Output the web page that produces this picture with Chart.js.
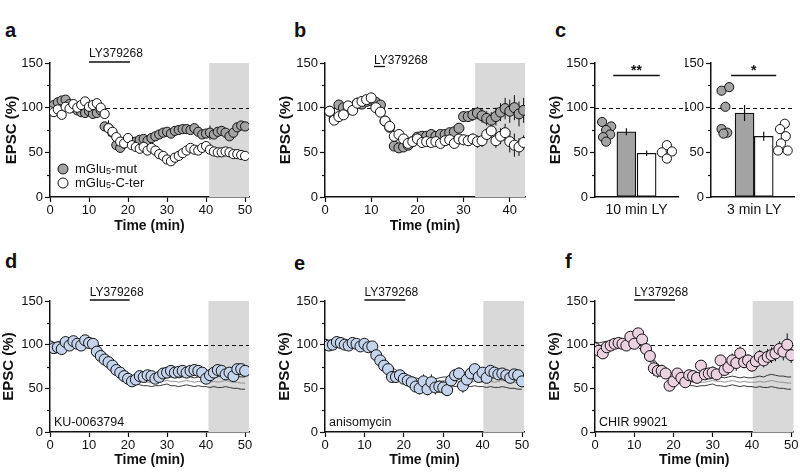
<!DOCTYPE html>
<html>
<head>
<meta charset="utf-8">
<script src="https://cdn.jsdelivr.net/npm/chart.js@4.4.1/dist/chart.umd.min.js"></script>
<style>
  body { margin: 0; background: #fff; }
  #fig { position: relative; width: 800px; height: 475px; overflow: hidden; font-family: "Liberation Sans", Arial, sans-serif; }
  #fig canvas { position: absolute; }
  .tag { position: absolute; font-weight: bold; font-size: 20px; line-height: 1; color: #111; }
</style>
</head>
<body>
<div id="fig">
  <div class="tag" style="left:5px;top:20px">a</div>
  <div class="tag" style="left:294px;top:20px">b</div>
  <div class="tag" style="left:555px;top:20px">c</div>
  <div class="tag" style="left:5px;top:251px">d</div>
  <div class="tag" style="left:294px;top:253px">e</div>
  <div class="tag" style="left:565px;top:251px">f</div>
  <canvas id="chartA" width="265" height="240" style="left:0;top:0"></canvas>
  <canvas id="chartB" width="270" height="240" style="left:270px;top:0"></canvas>
  <canvas id="chartC1" width="150" height="240" style="left:540px;top:0"></canvas>
  <canvas id="chartC2" width="115" height="240" style="left:685px;top:0"></canvas>
  <canvas id="chartD" width="265" height="235" style="left:0;top:240px"></canvas>
  <canvas id="chartE" width="270" height="235" style="left:270px;top:240px"></canvas>
  <canvas id="chartF" width="260" height="235" style="left:540px;top:240px"></canvas>
</div>
<script>
const FONT = "'Liberation Sans', Arial, sans-serif";
Chart.defaults.font.family = FONT;
Chart.defaults.color = '#111';

// time axes (min)
const minutes = Array.from({ length: 51 }, (_, i) => i);
const minutesB = Array.from({ length: 43 }, (_, i) => i + 1);
const timeTicks = [0, 10, 20, 30, 40, 50];

// panel a: EPSC (%) per minute
const aMut = [100, 103, 106, 108, 109, 104, 100, 97, 95, 94, 96, 93, 94, 97, 79, 77, 72, 58, 55, 60,
  62, 61, 62, 64, 65, 63, 66, 68, 70, 72, 73, 71, 74, 75, 76, 76, 75, 77, 73, 70,
  71, 72, 70, 73, 74, 72, 68, 72, 78, 80, 79];
const aMutSem = [3, 3, 3, 3, 3, 3, 3, 3, 3, 3, 3, 3, 3, 3, 5, 9, 4, 5, 5, 4,
  3, 3, 3, 3, 3, 3, 3, 3, 3, 3, 3, 3, 3, 3, 3, 3, 3, 3, 3, 3,
  3, 8, 3, 3, 3, 3, 3, 3, 4, 4, 4];
const aCter = [96, 95, 98, 92, 101, 99, 104, 100, 103, 107, 101, 103, 105, 100, 93, 77, 73, 67, 62, 60,
  66, 58, 56, 54, 56, 52, 55, 52, 48, 46, 42, 40, 44, 46, 49, 52, 55, 53, 52, 55,
  57, 53, 51, 50, 50, 51, 50, 48, 48, 47, 46];
const aCterSem = [3, 3, 3, 3, 3, 3, 3, 3, 3, 3, 3, 3, 3, 3, 4, 4, 4, 5, 6, 3,
  3, 3, 3, 3, 3, 3, 3, 3, 3, 3, 3, 3, 3, 3, 3, 3, 3, 3, 3, 3,
  3, 3, 3, 3, 3, 3, 3, 3, 3, 5, 5];

// panel b: minutes 1..43
const bMut = [96, 88, 103, 100, 98, 100, 105, 104, 107, 108, 106, 103, 85, 78, 57, 55, 56, 58, 62, 67,
  68, 68, 70, 68, 70, 70, 72, 73, 77, 90, 90, 92, 94, 91, 88, 86, 90, 95, 99, 96,
  100, 93, 97];
const bMutSem = [4, 4, 4, 4, 4, 4, 4, 4, 4, 4, 4, 4, 5, 5, 5, 5, 5, 5, 5, 5,
  5, 5, 5, 5, 5, 5, 5, 5, 5, 6, 6, 7, 7, 8, 8, 9, 10, 10, 12, 13,
  14, 14, 14];
const bCter = [96, 86, 90, 92, 102, 97, 105, 107, 109, 111, 100, 95, 85, 79, 68, 70, 65, 60, 62, 65,
  61, 62, 61, 62, 60, 63, 64, 60, 65, 64, 63, 65, 62, 63, 70, 74, 63, 68, 72, 62,
  58, 56, 61];
const bCterSem = [4, 4, 4, 4, 4, 4, 4, 4, 4, 4, 4, 4, 4, 4, 5, 5, 5, 5, 5, 5,
  5, 5, 5, 5, 5, 5, 5, 5, 5, 6, 6, 6, 7, 7, 7, 8, 8, 9, 10, 12,
  13, 10, 8];

// panel c: individual cells and mean +/- sem
const cGroups = ['10 min LY', '3 min LY'];
const c10Mut = [84, 79, 75, 70, 67, 62];
const c10MutJitter = [-0.2, 0.25, 0, 0.2, -0.15, 0];
const c10Cter = [58, 50, 51, 43];
const c10CterJitter = [0, -0.25, 0.25, 0];
const c10Means = [73, 49];
const c10Sems = [4, 3];
const c3Mut = [119, 123, 101, 76, 72, 71];
const c3MutJitter = [-0.2, 0.2, 0, -0.2, 0.1, -0.1];
const c3Cter = [82, 76, 68, 60, 52, 52];
const c3CterJitter = [0.1, -0.15, 0.15, -0.1, -0.25, 0.25];
const c3Means = [94, 68];
const c3Sems = [9, 5];

// control LTD (mean +/- sem), overlaid in d-f
const ctrlMean = [100, 99, 100, 101, 100, 99, 100, 101, 100, 99, 100, 100, 97, 91, 85, 79, 74, 70, 67, 64,
  62, 60, 59, 58, 57, 57, 56, 57, 57, 58, 59, 58, 58, 57, 58, 59, 58, 57, 58, 57,
  57, 57, 58, 57, 58, 59, 58, 57, 57, 56, 56];
const ctrlSem = [3, 3, 3, 3, 3, 3, 3, 3, 3, 3, 3, 3, 4, 4, 4, 4, 4, 4, 4, 4,
  4, 4, 4, 4, 4, 4, 4, 4, 4, 4, 4, 5, 5, 5, 5, 5, 5, 5, 5, 5,
  5, 6, 6, 6, 7, 7, 7, 7, 7, 7, 7];

const dKu = [98, 96, 97, 95, 103, 99, 104, 101, 99, 105, 102, 101, 92, 87, 83, 80, 76, 71, 68, 64,
  61, 58, 60, 64, 63, 65, 64, 61, 63, 67, 68, 70, 68, 69, 70, 68, 70, 71, 70, 68,
  61, 65, 68, 71, 70, 66, 68, 64, 72, 72, 70];
const dKuSem = [3, 3, 3, 3, 3, 3, 3, 3, 3, 3, 3, 3, 3, 3, 3, 3, 3, 3, 3, 3,
  3, 3, 3, 4, 4, 4, 4, 4, 4, 4, 4, 4, 4, 4, 4, 4, 4, 4, 4, 4,
  4, 4, 4, 4, 4, 4, 4, 4, 4, 4, 4];
const eAniso = [100, 99, 100, 103, 102, 100, 99, 102, 101, 98, 101, 97, 98, 88, 82, 76, 72, 63, 63, 65,
  61, 59, 57, 52, 50, 58, 49, 57, 51, 52, 51, 48, 59, 65, 67, 53, 60, 67, 72, 63,
  68, 62, 70, 68, 66, 67, 65, 62, 66, 65, 58];
const eAnisoSem = [3, 3, 3, 3, 3, 3, 3, 3, 3, 3, 3, 3, 3, 4, 4, 4, 4, 4, 4, 4,
  4, 4, 4, 6, 7, 8, 7, 9, 8, 7, 8, 7, 6, 6, 7, 8, 7, 8, 6, 6,
  6, 6, 6, 5, 5, 5, 5, 5, 5, 5, 5];
const fChir = [96, 93, 90, 97, 99, 101, 102, 101, 99, 109, 101, 113, 106, 95, 87, 73, 70, 70, 67, 53,
  58, 67, 62, 57, 65, 64, 62, 76, 66, 67, 68, 66, 82, 71, 74, 82, 79, 90, 80, 82,
  76, 81, 86, 82, 86, 88, 90, 95, 92, 100, 88];
const fChirSem = [3, 3, 3, 3, 3, 3, 3, 3, 3, 3, 3, 3, 3, 5, 6, 9, 8, 7, 6, 5,
  5, 5, 5, 5, 5, 5, 6, 6, 6, 6, 7, 7, 6, 7, 8, 8, 9, 8, 7, 7,
  7, 8, 8, 8, 9, 9, 9, 9, 10, 13, 9];

const GREY = '#a3a3a3', BLUE = '#c4d4ec', PINK = '#ecd1e1', SHADE = '#d9d9d9';

function pts(xs, ys) { return ys.map((v, i) => ({ x: xs[i], y: v })); }

function dotSet(xs, ys, fill, r) {
  return { data: pts(xs, ys), pointRadius: r, pointBackgroundColor: fill, pointBorderColor: '#111',
    pointBorderWidth: 1, showLine: false, order: 0 };
}
function ctrlSet(vals, color) {
  return { data: pts(minutes, vals), showLine: true, pointRadius: 0, borderColor: color,
    borderWidth: 0.9, order: 5 };
}

function decorPlugin(p) {
  return {
    id: 'decor',
    beforeDatasetsDraw(chart) {
      const { ctx, chartArea: a, scales: { x, y } } = chart;
      ctx.save();
      if (p.shade != null) {
        const x0 = x.getPixelForValue(p.shade);
        ctx.fillStyle = SHADE;
        ctx.fillRect(x0, a.top, a.right - x0, a.bottom - a.top);
      }
      const yb = Math.round(y.getPixelForValue(100)) + 0.5;
      ctx.strokeStyle = '#111';
      ctx.lineWidth = 1.2;
      ctx.setLineDash([4, 3]);
      ctx.beginPath();
      ctx.moveTo(a.left, yb);
      ctx.lineTo(p.dashTo != null ? p.dashTo : a.right, yb);
      ctx.stroke();
      ctx.setLineDash([]);
      ctx.lineWidth = 1;
      (p.errors || []).forEach(s => {
        s.vals.forEach((v, i) => {
          const px = x.getPixelForValue(s.xs[i]);
          ctx.beginPath();
          ctx.moveTo(px, y.getPixelForValue(v + s.sem[i]));
          ctx.lineTo(px, y.getPixelForValue(v - s.sem[i]));
          ctx.stroke();
        });
      });
      ctx.restore();
    },
    afterDatasetsDraw(chart) {
      const { ctx, scales: { x, y } } = chart;
      if (!p.barErr) return;
      ctx.save();
      ctx.strokeStyle = '#111';
      ctx.lineWidth = 1.2;
      p.barErr.means.forEach((m, i) => {
        const px = x.getPixelForValue(i + 1);
        ctx.beginPath();
        ctx.moveTo(px, y.getPixelForValue(m + p.barErr.sems[i]));
        ctx.lineTo(px, y.getPixelForValue(m - p.barErr.sems[i]));
        ctx.stroke();
      });
      ctx.restore();
    },
    afterDraw(chart) {
      const { ctx, chartArea: a, scales: { x, y } } = chart;
      ctx.save();
      ctx.strokeStyle = '#111';
      ctx.lineWidth = 1.2;
      [25, 75, 125].forEach(v => {
        const py = Math.round(y.getPixelForValue(v)) + 0.5;
        ctx.beginPath(); ctx.moveTo(a.left - 3, py); ctx.lineTo(a.left, py); ctx.stroke();
      });
      ctx.fillStyle = '#111';
      if (p.ly) {
        const x0 = x.getPixelForValue(p.ly.from), x1 = x.getPixelForValue(p.ly.to);
        ctx.lineWidth = 1.3;
        ctx.beginPath();
        ctx.moveTo(x0, a.top + p.ly.lineDy);
        ctx.lineTo(x1, a.top + p.ly.lineDy);
        ctx.stroke();
        ctx.font = '12px ' + FONT;
        ctx.textAlign = 'left';
        ctx.textBaseline = 'alphabetic';
        ctx.fillText('LY379268', x0, a.top + p.ly.textDy);
      }
      if (p.drug) {
        ctx.font = '12.5px ' + FONT;
        ctx.textAlign = 'left';
        ctx.textBaseline = 'middle';
        ctx.fillText(p.drug, a.left + 4, a.bottom - 9);
      }
      if (p.legend) {
        p.legend.forEach((it, i) => {
          const cy = a.bottom - 28 + i * 14, cx = a.left + 13;
          ctx.beginPath();
          ctx.arc(cx, cy, 5, 0, Math.PI * 2);
          ctx.fillStyle = it.fill;
          ctx.fill();
          ctx.lineWidth = 1;
          ctx.stroke();
          ctx.fillStyle = '#111';
          ctx.textBaseline = 'middle';
          ctx.textAlign = 'left';
          let tx = cx + 12;
          ctx.font = '13px ' + FONT;
          ctx.fillText('mGlu', tx, cy);
          tx += ctx.measureText('mGlu').width;
          ctx.font = '9px ' + FONT;
          ctx.fillText('5', tx, cy + 3);
          tx += ctx.measureText('5').width;
          ctx.font = '13px ' + FONT;
          ctx.fillText(it.tail, tx, cy);
        });
      }
      if (p.sig) {
        const s = p.sig;
        const py = y.getPixelForValue(s.y);
        ctx.lineWidth = 1.3;
        ctx.beginPath();
        ctx.moveTo(x.getPixelForValue(s.from), py);
        ctx.lineTo(x.getPixelForValue(s.to), py);
        ctx.stroke();
        ctx.font = 'bold 14px ' + FONT;
        ctx.textAlign = 'center';
        ctx.textBaseline = 'alphabetic';
        ctx.fillText(s.text, x.getPixelForValue((s.from + s.to) / 2), py - 1);
      }
      ctx.restore();
    }
  };
}

function yScale(p, H) {
  return {
    min: 0, max: 150,
    afterFit: s => { s.width = p.area.left; },
    ticks: { stepSize: 50, font: { size: 13 }, padding: 2, color: '#111' },
    grid: { drawOnChartArea: false, tickLength: 5, color: '#111', tickWidth: 1.2 },
    border: { color: '#111', width: 1.5 },
    title: { display: !!p.yTitle, text: 'EPSC (%)', font: { size: 15, weight: 'bold' },
      padding: { top: (p.yTitleX || 9) - 9, bottom: 0 } }
  };
}

function timeChart(id, p) {
  const c = document.getElementById(id);
  const W = c.width, H = c.height;
  p.yTitle = true;
  return new Chart(c, {
    type: 'scatter',
    data: { datasets: p.datasets },
    options: {
      responsive: false,
      animation: false,
      layout: { padding: { left: 0, top: p.area.top, right: W - p.area.right, bottom: 0 } },
      plugins: { legend: { display: false }, tooltip: { enabled: false } },
      scales: {
        x: {
          type: 'linear', min: 0, max: p.xMax, offset: false,
          afterBuildTicks: s => { s.ticks = timeTicks.filter(v => v <= p.xMax).map(v => ({ value: v })); },
          afterFit: s => { s.height = H - p.area.bottom; },
          ticks: { font: { size: 13 }, padding: 1, color: '#111', maxRotation: 0, autoSkip: false },
          grid: { drawOnChartArea: false, tickLength: 5, color: '#111', tickWidth: 1.2 },
          border: { color: '#111', width: 1.5 },
          title: { display: true, text: 'Time (min)', font: { size: 14, weight: 'bold' },
            padding: { top: 0, bottom: H - p.xTitleY - 8.4 } }
        },
        y: yScale(p, H)
      }
    },
    plugins: [decorPlugin(p)]
  });
}

function barChart(id, p) {
  const c = document.getElementById(id);
  const W = c.width, H = c.height;
  return new Chart(c, {
    type: 'scatter',
    data: {
      datasets: [
        { type: 'bar', data: pts([1, 2], p.means), backgroundColor: [GREY, '#fff'], borderColor: '#111',
          borderWidth: 1.3, borderSkipped: false, barThickness: 19, order: 3 },
        { data: pts(p.mutJitter, p.mut), pointRadius: 4.6, pointBackgroundColor: GREY,
          pointBorderColor: '#111', pointBorderWidth: 1, order: 0 },
        { data: pts(p.cterJitter.map(j => 3 + j), p.cter), pointRadius: 4.6, pointBackgroundColor: '#fff',
          pointBorderColor: '#111', pointBorderWidth: 1, order: 0 }
      ]
    },
    options: {
      responsive: false,
      animation: false,
      layout: { padding: { left: 0, top: p.area.top, right: W - p.area.right, bottom: 0 } },
      plugins: { legend: { display: false }, tooltip: { enabled: false } },
      scales: {
        x: {
          type: 'linear', min: p.xMin, max: p.xMax, offset: false,
          afterBuildTicks: s => { s.ticks = [{ value: 1.5 }]; },
          afterFit: s => { s.height = H - p.area.bottom; },
          ticks: { callback: () => p.label, font: { size: 14 }, padding: 5, color: '#111', maxRotation: 0 },
          grid: { drawOnChartArea: false, drawTicks: false, offset: false },
          border: { color: '#111', width: 1.5 }
        },
        y: yScale(p, H)
      }
    },
    plugins: [decorPlugin(p)]
  });
}

timeChart('chartA', {
  area: { left: 50, top: 63, right: 249, bottom: 197 }, xMax: 51, yTitleX: 12, xTitleY: 226,
  shade: 40.8, ly: { from: 10, to: 20.5, lineDy: -1, textDy: -6 },
  legend: [{ fill: GREY, tail: '-mut' }, { fill: '#fff', tail: '-C-ter' }],
  errors: [{ xs: minutes, vals: aMut, sem: aMutSem }, { xs: minutes, vals: aCter, sem: aCterSem }],
  datasets: [dotSet(minutes, aCter, '#fff', 4.6), dotSet(minutes, aMut, GREY, 4.6)]
});

timeChart('chartB', {
  area: { left: 55, top: 63, right: 255, bottom: 197 }, xMax: 43.3, yTitleX: 16, xTitleY: 226,
  shade: 32.5, ly: { from: 10.6, to: 13, lineDy: 3.5, textDy: 0.5 },
  errors: [{ xs: minutesB, vals: bMut, sem: bMutSem }, { xs: minutesB, vals: bCter, sem: bCterSem }],
  datasets: [dotSet(minutesB, bCter, '#fff', 5), dotSet(minutesB, bMut, GREY, 5)]
});

barChart('chartC1', {
  area: { left: 55, top: 63, right: 138, bottom: 197 }, xMin: -0.55, xMax: 3.55, yTitle: true, yTitleX: 15.5,
  label: cGroups[0], means: c10Means, mut: c10Mut, mutJitter: c10MutJitter, cter: c10Cter, cterJitter: c10CterJitter,
  barErr: { means: c10Means, sems: c10Sems }, dashTo: 148,
  sig: { from: 0.35, to: 2.65, y: 136, text: '**' }
});

barChart('chartC2', {
  area: { left: 26, top: 63, right: 113, bottom: 197 }, xMin: -0.75, xMax: 3.6, yTitle: false,
  label: cGroups[1], means: c3Means, mut: c3Mut, mutJitter: c3MutJitter, cter: c3Cter, cterJitter: c3CterJitter,
  barErr: { means: c3Means, sems: c3Sems },
  sig: { from: 0.3, to: 2.65, y: 136, text: '*' }
});

const ctrlUpper = ctrlMean.map((v, i) => v + ctrlSem[i]);
const ctrlLower = ctrlMean.map((v, i) => v - ctrlSem[i]);
function ctrlSets() {
  return [ctrlSet(ctrlUpper, '#222'), ctrlSet(ctrlMean, '#8a8a8a'), ctrlSet(ctrlLower, '#222')];
}

timeChart('chartD', {
  area: { left: 50, top: 61, right: 249, bottom: 192 }, xMax: 51, yTitleX: 9, xTitleY: 220,
  shade: 40.6, ly: { from: 10.2, to: 20.4, lineDy: -1, textDy: -5 }, drug: 'KU-0063794',
  errors: [{ xs: minutes, vals: dKu, sem: dKuSem }],
  datasets: [dotSet(minutes, dKu, BLUE, 5.5), ...ctrlSets()]
});

timeChart('chartE', {
  area: { left: 55, top: 61, right: 254, bottom: 192 }, xMax: 50.5, yTitleX: 15, xTitleY: 220,
  shade: 40.2, ly: { from: 10, to: 20.4, lineDy: -1, textDy: -5 }, drug: 'anisomycin',
  errors: [{ xs: minutes, vals: eAniso, sem: eAnisoSem }],
  datasets: [dotSet(minutes, eAniso, BLUE, 5.5), ...ctrlSets()]
});

timeChart('chartF', {
  area: { left: 55, top: 61, right: 254, bottom: 192 }, xMax: 50.6, yTitleX: 14.5, xTitleY: 220,
  shade: 40.2, ly: { from: 10, to: 20.4, lineDy: -1, textDy: -5 }, drug: 'CHIR 99021',
  errors: [{ xs: minutes, vals: fChir, sem: fChirSem }],
  datasets: [dotSet(minutes, fChir, PINK, 5.5), ...ctrlSets()]
});
</script>
</body>
</html>
